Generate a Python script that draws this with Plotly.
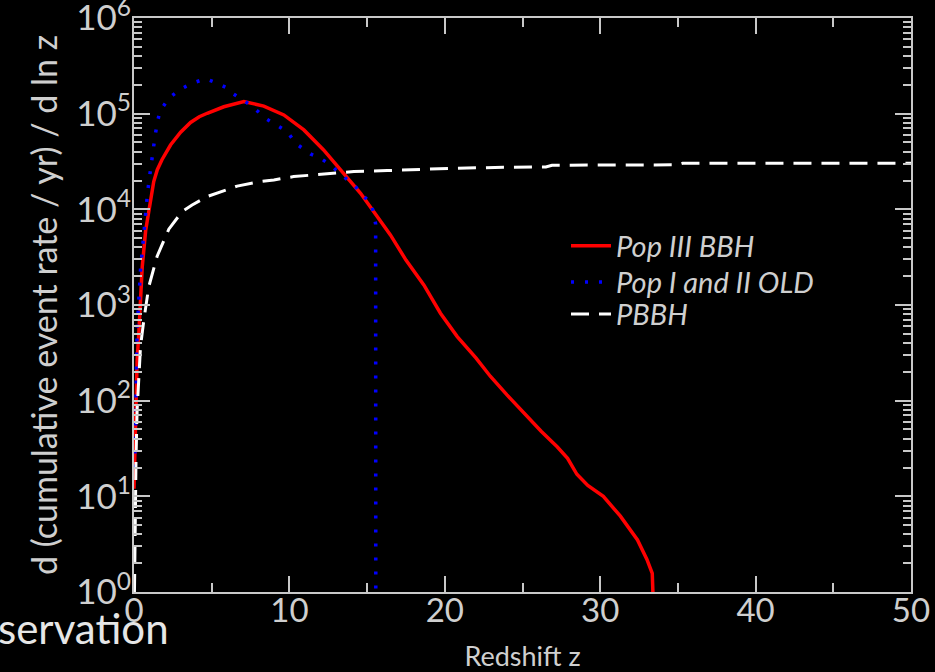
import plotly.graph_objects as go

# ---- data ----
z_pop3 = [0.0, 0.1, 0.2, 0.31, 0.42, 0.53, 0.75, 1.06, 1.27, 1.5, 1.8, 2.35, 3.0, 3.64, 4.2,
          4.71, 5.78, 7.07, 8.35, 9.64, 10.93, 12.2, 13.29, 14.58, 15.65, 16.5, 17.5, 18.65,
          19.72, 20.8, 22.0, 22.94, 24.0, 25.08, 26.2, 27.23, 27.9, 28.5, 29.2, 30.2, 31.3,
          32.4, 33.0, 33.35, 33.4]
rate_pop3 = [12, 100, 260, 507, 1200, 2500, 6000, 13000, 19500, 26000, 33000, 47000, 64000,
             81000, 93000, 101000, 118000, 134000, 120000, 97000, 67600, 41800, 25800, 14700,
             8400, 5400, 2950, 1620, 820, 468, 280, 179, 115, 74, 48, 33, 25, 17, 13, 10, 6.2,
             3.5, 2.2, 1.57, 0.9]

z_pop12 = [0.05, 0.1, 0.14, 0.2, 0.31, 0.42, 0.63, 0.74, 0.85, 0.95, 1.17, 1.34, 1.49, 1.66,
           2.24, 2.99, 3.74, 4.6, 5.24, 5.89, 6.42, 6.96, 7.5, 8.57, 9.21, 9.86, 10.39, 11.36,
           12.0, 12.64, 13.18, 13.72, 14.25, 14.68, 15.26, 15.43, 15.55, 15.56]
rate_pop12 = [20, 50, 196, 550, 1130, 2350, 5500, 9500, 13600, 19000, 38500, 56000, 79000,
              105000, 145000, 180000, 208000, 232000, 212000, 189000, 160000, 139000, 123000,
              87000, 76000, 65000, 49000, 37900, 34200, 29100, 24200, 20600, 17300, 14100,
              11700, 8800, 7000, 0.5]

z_pbbh = [0.03, 0.08, 0.13, 0.2, 0.31, 0.42, 0.63, 0.95, 1.49, 2.24, 3.1, 3.74, 4.71, 5.57,
          6.64, 8.14, 9.0, 10.28, 12.0, 14.15, 16.3, 18.4, 20.6, 23.8, 26.5, 26.9, 35.0, 35.3,
          50.0]
rate_pbbh = [1.0, 8, 25, 80, 195, 370, 690, 1550, 3240, 6200, 9500, 11100, 13600, 15300,
             17500, 19500, 20300, 22000, 23300, 24800, 25400, 26300, 26900, 27500, 27700,
             28900, 29200, 30300, 30300]

y_tick_vals = [1, 10, 100, 1000, 10000, 100000, 1000000]
y_tick_text = ["10<sup>0</sup>", "10<sup>1</sup>", "10<sup>2</sup>", "10<sup>3</sup>",
               "10<sup>4</sup>", "10<sup>5</sup>", "10<sup>6</sup>"]
x_tick_vals = [0, 10, 20, 30, 40, 50]

FONT = "Lato"
TXT = "#cfcfcf"
AX = "#c8c8c8"

fig = go.Figure()
fig.add_trace(go.Scatter(x=z_pop3, y=rate_pop3, mode="lines", name="Pop III BBH",
                         legend="legend",
                         line=dict(color="#ff0000", width=3.5)))
fig.add_trace(go.Scatter(x=z_pop12, y=rate_pop12, mode="lines", name="Pop I and II OLD",
                         legend="legend2",
                         line=dict(color="#0000ff", width=3.5, dash="3px,11px")))
fig.add_trace(go.Scatter(x=z_pbbh, y=rate_pbbh, mode="lines", name="PBBH",
                         legend="legend3",
                         line=dict(color="#ffffff", width=3, dash="18px,10px")))

minor_y = [m * 10 ** k for k in range(6) for m in range(2, 10)]

leg_common = dict(x=0.556, xanchor="left", yanchor="middle", bgcolor="rgba(0,0,0,0)",
                  font=dict(size=29, color=TXT, style="italic"), itemwidth=40)

fig.update_layout(
    width=935, height=672,
    margin=dict(l=134, r=24, t=18, b=80),
    paper_bgcolor="black", plot_bgcolor="black",
    font=dict(family=FONT, color=TXT),
    showlegend=True,
    legend=dict(y=0.603, **leg_common),
    legend2=dict(y=0.540, **leg_common),
    legend3=dict(y=0.484, **leg_common),
    xaxis=dict(range=[0, 50], tickvals=x_tick_vals, ticks="inside", ticklen=16,
               tickwidth=1.5, tickcolor=AX, showline=True, linecolor=AX, linewidth=2,
               mirror="allticks", showgrid=False, zeroline=False, automargin=False,
               tickfont=dict(size=33, color=TXT), ticklabeloverflow="allow",
               ticklabelstandoff=-12,
               minor=dict(dtick=5, tick0=0, ticks="inside", ticklen=9, tickwidth=1.5,
                          tickcolor=AX, showgrid=False),
               title=dict(text="Redshift z", font=dict(size=27, color=TXT), standoff=20)),
    yaxis=dict(type="log", range=[0, 6], tickvals=y_tick_vals, ticktext=y_tick_text,
               ticks="inside", ticklen=16, tickwidth=1.5, tickcolor=AX,
               showline=True, linecolor=AX, linewidth=2, mirror="allticks",
               showgrid=False, zeroline=False, automargin=False,
               tickfont=dict(size=35, color=TXT),
               ticklabeloverflow="allow", ticklabelstandoff=-6,
               minor=dict(tickmode="array", tickvals=minor_y, ticks="inside", ticklen=8,
                          tickwidth=1.5, tickcolor=AX, showgrid=False),
               title=dict(text="d (cumulative event rate / yr) / d ln z",
                          font=dict(size=34, color=TXT), standoff=8)),
    annotations=[dict(text="servation", xref="paper", yref="paper",
                      x=-0.1775, y=-0.062, xanchor="left", yanchor="middle",
                      showarrow=False, font=dict(size=42, color="#e6e6e6", family=FONT))],
)

fig.write_html("out.html", config={"displayModeBar": False},
               post_script="document.body.style.margin='0';"
                           "document.body.style.background='black';")
